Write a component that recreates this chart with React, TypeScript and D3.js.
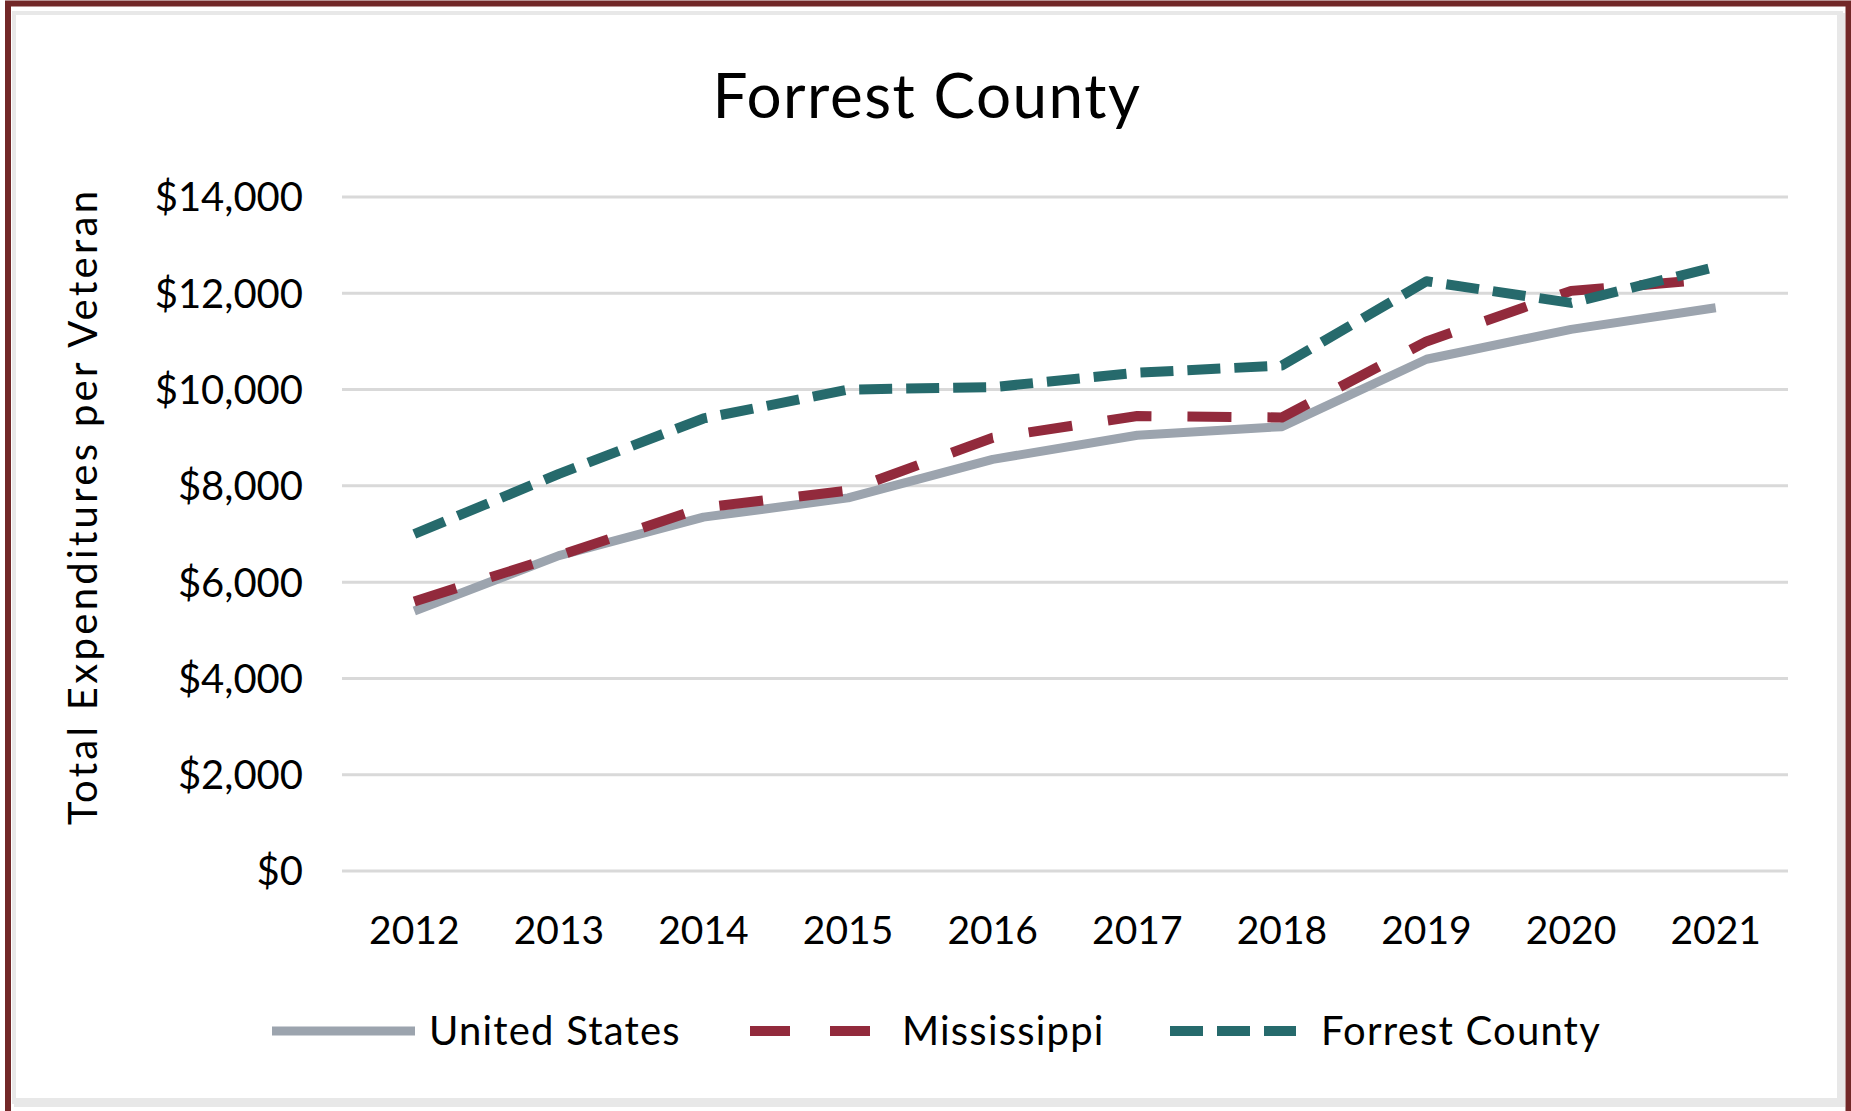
import React, { useEffect, useRef } from 'react';
import * as d3 from 'd3';

const years = ['2012', '2013', '2014', '2015', '2016', '2017', '2018', '2019', '2020', '2021'];
const unitedStates = [5400, 6550, 7350, 7750, 8550, 9050, 9230, 10630, 11250, 11700];
const mississippi = [5600, 6550, 7550, 7900, 9000, 9450, 9420, 11000, 12050, 12300];
const forrestCounty = [7000, 8250, 9400, 10000, 10050, 10350, 10500, 12250, 11800, 12550];
const yTicks = [0, 2000, 4000, 6000, 8000, 10000, 12000, 14000];

const W = 1851;
const H = 1111;
const FONT = 'Lato, "Open Sans", sans-serif';

const series = [
    { name: 'United States', values: unitedStates, color: '#9ca4ae', width: 9, dash: null, legendDash: null },
    { name: 'Mississippi', values: mississippi, color: '#922a3c', width: 10, dash: '44 36', legendDash: '40 40' },
    { name: 'Forrest County', values: forrestCounty, color: '#266a6c', width: 10, dash: '33 14', legendDash: '33 14' },
];

// legend sample x ranges and text x, laid out by hand like Excel's legend
const legendLayout = [
    { x0: 272, x1: 415, tx: 429 },
    { x0: 750, x1: 870, tx: 902 },
    { x0: 1170, x1: 1296, tx: 1321 },
];

function App() {
    const ref = useRef(null);

    useEffect(() => {
        const svg = d3.select(ref.current);
        svg.selectAll('*').remove();

        const x = d3.scaleBand().domain(years).range([342, 1788]);
        const y = d3.scaleLinear().domain([0, 14000]).range([871, 197]);
        const cx = (i: number) => (x(years[i]) as number) + x.bandwidth() / 2;

        // frame
        svg.append('rect')
            .attr('x', 0).attr('y', 0).attr('width', W).attr('height', H)
            .attr('fill', '#ffffff');
        svg.append('rect')
            .attr('x', 8).attr('y', 3.5).attr('width', W - 10.5).attr('height', H + 10)
            .attr('fill', 'none').attr('stroke', '#722828').attr('stroke-width', 6);
        svg.append('rect')
            .attr('x', 14).attr('y', 13).attr('width', 1827).attr('height', 1089)
            .attr('fill', 'none').attr('stroke', '#e8e8e8').attr('stroke-width', 4);
        svg.append('rect')
            .attr('x', 1837).attr('y', 13).attr('width', 8).attr('height', 1093)
            .attr('fill', '#e8e8e8');
        svg.append('rect')
            .attr('x', 14).attr('y', 1098).attr('width', 1831).attr('height', 9)
            .attr('fill', '#e8e8e8');

        // title
        svg.append('text')
            .attr('x', 927).attr('y', 118)
            .attr('text-anchor', 'middle')
            .attr('font-family', FONT).attr('font-size', 62)
            .attr('letter-spacing', 1.5)
            .attr('fill', '#000')
            .text('Forrest County');

        // gridlines + y labels
        const grid = svg.append('g');
        grid.selectAll('line')
            .data(yTicks)
            .enter()
            .append('line')
            .attr('x1', 342).attr('x2', 1788)
            .attr('y1', d => y(d)).attr('y2', d => y(d))
            .attr('stroke', '#d9d9d9').attr('stroke-width', 3);

        const fmt = d3.format(',');
        svg.append('g')
            .selectAll('text')
            .data(yTicks)
            .enter()
            .append('text')
            .attr('x', 303)
            .attr('y', d => y(d))
            .attr('dy', '0.36em')
            .attr('text-anchor', 'end')
            .attr('font-family', FONT).attr('font-size', 40)
            .attr('fill', '#000')
            .text(d => '$' + fmt(d));

        // x labels
        svg.append('g')
            .selectAll('text')
            .data(years)
            .enter()
            .append('text')
            .attr('x', (d, i) => cx(i))
            .attr('y', 944)
            .attr('text-anchor', 'middle')
            .attr('font-family', FONT).attr('font-size', 39)
            .attr('fill', '#000')
            .text(d => d);

        // y axis title
        svg.append('text')
            .attr('transform', 'translate(97 508) rotate(-90)')
            .attr('text-anchor', 'middle')
            .attr('font-family', FONT).attr('font-size', 40)
            .attr('textLength', 634)
            .attr('lengthAdjust', 'spacing')
            .attr('fill', '#000')
            .text('Total Expenditures per Veteran');

        // lines
        const line = d3.line<number>()
            .x((d, i) => cx(i))
            .y(d => y(d));

        series.forEach(s => {
            const p = svg.append('path')
                .datum(s.values)
                .attr('d', line)
                .attr('fill', 'none')
                .attr('stroke', s.color)
                .attr('stroke-width', s.width)
                .attr('stroke-linejoin', 'round');
            if (s.dash) p.attr('stroke-dasharray', s.dash);
        });

        // legend
        const leg = svg.append('g');
        series.forEach((s, i) => {
            const l = legendLayout[i];
            const ln = leg.append('line')
                .attr('x1', l.x0).attr('x2', l.x1)
                .attr('y1', 1031).attr('y2', 1031)
                .attr('stroke', s.color)
                .attr('stroke-width', s.width);
            if (s.legendDash) ln.attr('stroke-dasharray', s.legendDash);
            leg.append('text')
                .attr('x', l.tx).attr('y', 1045)
                .attr('font-family', FONT).attr('font-size', 40)
                .attr('letter-spacing', 1.2)
                .attr('fill', '#000')
                .text(s.name);
        });
    }, []);

    return (
        <div style={{ position: 'absolute', left: 0, top: 0 }}>
            <style>{'body{margin:0;overflow:hidden}'}</style>
            <svg ref={ref} width={W} height={H} style={{ display: 'block' }} />
        </div>
    );
}

export default App;
